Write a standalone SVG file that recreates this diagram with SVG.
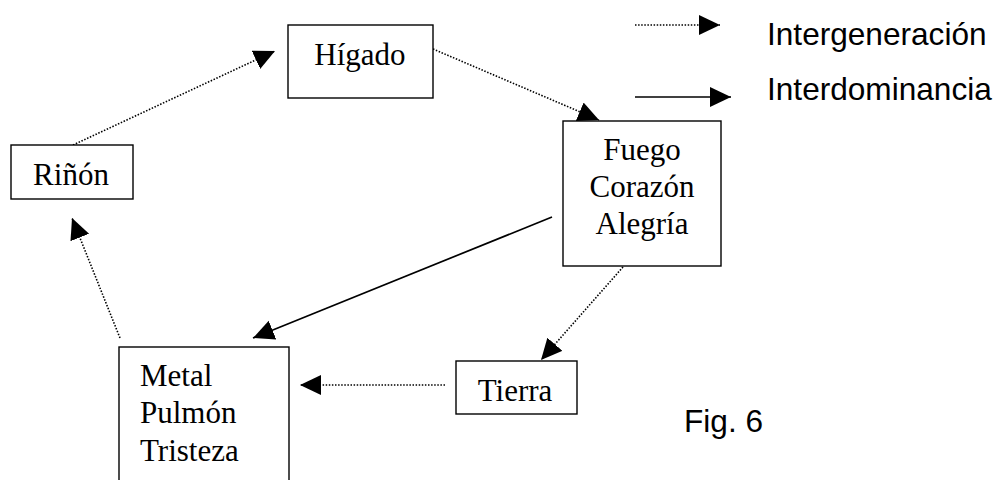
<svg xmlns="http://www.w3.org/2000/svg" width="996" height="480" viewBox="0 0 996 480">
  <style>
    .box { fill: #fff; stroke: #000; stroke-width: 1.4; }
    .serif { font-family: "Liberation Serif", "Times New Roman", serif; font-size: 31px; fill: #000; }
    .sans { font-family: "Liberation Sans", Arial, sans-serif; font-size: 31.6px; fill: #000; }
    .dotted { fill: none; stroke: #000; stroke-width: 1.6; stroke-dasharray: 1.5 1.6; marker-end: url(#head); }
    .solid { fill: none; stroke: #000; stroke-width: 1.7; marker-end: url(#head); }
  </style>
  <defs>
    <marker id="head" markerUnits="userSpaceOnUse" markerWidth="22" markerHeight="21" refX="21" refY="10" orient="auto">
      <path d="M0,0 L21,10 L0,20 Z" fill="#000"/>
    </marker>
  </defs>
  <rect width="996" height="480" fill="#fff"/>

  <!-- connectors -->
  <g id="connectors">
    <line class="dotted" x1="73" y1="145" x2="275" y2="51"/>
    <line class="dotted" x1="433" y1="49" x2="599" y2="120"/>
    <line class="dotted" x1="623" y1="267" x2="541" y2="360"/>
    <line class="dotted" x1="445" y1="385" x2="300" y2="385"/>
    <line class="dotted" x1="120" y1="338" x2="72" y2="218"/>
    <line class="solid" x1="552" y1="217" x2="253" y2="338"/>
  </g>

  <!-- nodes -->
  <g id="higado">
    <rect class="box" x="288" y="25" width="145" height="73"/>
    <text class="serif" x="360" y="65" text-anchor="middle">Hígado</text>
  </g>
  <g id="rinon">
    <rect class="box" x="11" y="145" width="122" height="54"/>
    <text class="serif" x="71" y="185" text-anchor="middle">Riñón</text>
  </g>
  <g id="fuego">
    <rect class="box" x="563" y="121" width="158" height="145"/>
    <text class="serif" x="642" y="160" text-anchor="middle">Fuego</text>
    <text class="serif" x="642" y="197" text-anchor="middle">Corazón</text>
    <text class="serif" x="642" y="234" text-anchor="middle">Alegría</text>
  </g>
  <g id="tierra">
    <rect class="box" x="456" y="361" width="121" height="53"/>
    <text class="serif" x="515" y="401" text-anchor="middle">Tierra</text>
  </g>
  <g id="metal">
    <rect class="box" x="119" y="347" width="170" height="145"/>
    <text class="serif" x="140" y="386">Metal</text>
    <text class="serif" x="140" y="423">Pulmón</text>
    <text class="serif" x="140" y="461">Tristeza</text>
  </g>

  <!-- legend -->
  <g id="legend">
    <line class="dotted" x1="635" y1="25" x2="720" y2="25"/>
    <line class="solid" x1="635" y1="97" x2="731" y2="97"/>
    <text class="sans" x="767" y="45">Intergeneración</text>
    <text class="sans" x="767" y="100">Interdominancia</text>
  </g>

  <text id="caption" class="sans" x="684" y="432">Fig. 6</text>
</svg>
